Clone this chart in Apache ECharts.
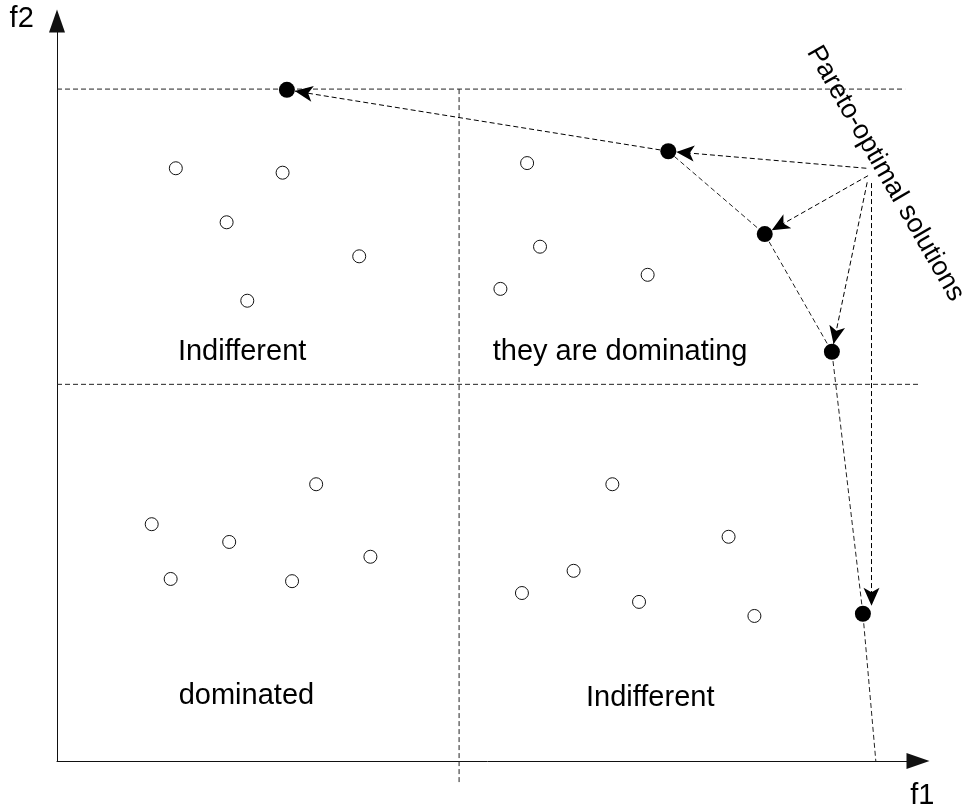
<!DOCTYPE html>
<html>
<head>
<meta charset="utf-8">
<script src="https://cdn.jsdelivr.net/npm/echarts@6/dist/echarts.min.js"></script>
<style>
html, body { margin: 0; padding: 0; background: #fff; }
#chart { width: 963px; height: 812px; }
</style>
</head>
<body>
<div id="chart"></div>
<script>
// objective space, f1 and f2 on a 0..100 scale
const indifferentTop = [[13.8, 80.1], [26.2, 79.5], [19.7, 72.8], [35.1, 68.2], [22.1, 62.2]];
const dominatingPts = [[54.6, 80.8], [56.1, 69.5], [51.5, 63.8], [68.6, 65.7]];
const dominatedPts = [[30.1, 37.4], [11.0, 32.0], [20.0, 29.6], [13.2, 24.6], [27.3, 24.3], [36.4, 27.6]];
const indifferentBottom = [[64.5, 37.4], [78.0, 30.3], [60.0, 25.7], [54.0, 22.7], [67.6, 21.5], [81.0, 19.6]];

// pareto front, then where the front line meets the f1 axis
const paretoPts = [[26.7, 90.7], [71.0, 82.4], [82.2, 71.2], [90.0, 55.3], [93.6, 19.9]];
const frontEnd = [95.1, 0];

// annotation arrows: start and target
const annoFrom = [[94.0, 80.1], [94.2, 79.1], [94.1, 78.2], [94.6, 78.1]];
const annoTo = [[71.0, 82.4], [82.2, 71.2], [90.0, 55.3], [94.6, 19.9]];

// quadrant dividers
const hLineTop = [[0, 90.8], [98.5, 90.8]];
const hLineMid = [[0, 50.9], [101.4, 50.9]];
const vLine = [[46.7, 90.8], [46.7, -3.2]];

const regionNames = ['Indifferent', 'they are dominating', 'dominated', 'Indifferent'];
const regionPos = [[21.5, 55.3], [65.4, 55.3], [22.0, 8.8], [68.9, 8.5]];
const axisNames = ['f2', 'f1'];
const axisNamePos = [[-4.1, 100.3], [100.5, -4.7]];
const paretoLabel = 'Pareto-optimal solutions';
const paretoLabelPos = [96.2, 79.4];

const FONT = '"Liberation Sans", Arial, sans-serif';
const dash = [5, 3];

let chart = echarts.init(document.getElementById('chart'));

function dashedLine(data) {
    return {
        type: 'line',
        data: data,
        symbol: 'none',
        clip: false,
        silent: true,
        lineStyle: { color: '#222', width: 1, type: dash },
        z: 2
    };
}

function openCircles(data) {
    return {
        type: 'scatter',
        data: data,
        symbol: 'circle',
        symbolSize: 13,
        clip: false,
        itemStyle: { color: '#fff', borderColor: '#111', borderWidth: 1, opacity: 1 },
        z: 5
    };
}

let option = {
    animation: false,
    backgroundColor: '#fff',
    grid: { left: 57, right: 45, top: 21, bottom: 51, containLabel: false, outerBoundsMode: 'none' },
    xAxis: {
        type: 'value', min: 0, max: 100,
        axisLine: { show: true, symbol: ['none', 'triangle'], symbolSize: [16, 23], lineStyle: { color: '#111', width: 1 } },
        axisTick: { show: false }, axisLabel: { show: false }, splitLine: { show: false }
    },
    yAxis: {
        type: 'value', min: 0, max: 100,
        axisLine: { show: true, symbol: ['none', 'triangle'], symbolSize: [16, 23], lineStyle: { color: '#111', width: 1 } },
        axisTick: { show: false }, axisLabel: { show: false }, splitLine: { show: false }
    },
    series: [
        dashedLine(hLineTop),
        dashedLine(hLineMid),
        dashedLine(vLine),
        dashedLine(paretoPts.slice(1).concat([frontEnd])),
        openCircles(indifferentTop),
        openCircles(dominatingPts),
        openCircles(dominatedPts),
        openCircles(indifferentBottom),
        {
            type: 'scatter',
            data: paretoPts,
            symbolSize: 16,
            clip: false,
            itemStyle: { color: '#000', opacity: 1 },
            z: 6
        },
        {
            type: 'scatter',
            data: regionPos.map((p, i) => ({ value: p, name: regionNames[i] }))
                .concat(axisNamePos.map((p, i) => ({ value: p, name: axisNames[i] }))),
            symbolSize: 0,
            clip: false,
            silent: true,
            itemStyle: { opacity: 1 },
            label: {
                show: true, position: 'inside', formatter: '{b}',
                color: '#000', fontSize: 29, fontFamily: FONT
            }
        },
        {
            type: 'scatter',
            data: [{ value: paretoLabelPos, name: paretoLabel }],
            symbolSize: 0,
            clip: false,
            silent: true,
            itemStyle: { opacity: 1 },
            label: {
                show: true, position: 'inside', formatter: '{b}', rotate: -60,
                color: '#000', fontSize: 27, fontFamily: FONT
            }
        }
    ]
};
chart.setOption(option);

// pull an arrow end back so its tip stops at the edge of the target dot
function shorten(from, to, px) {
    let a = chart.convertToPixel({ gridIndex: 0 }, from);
    let b = chart.convertToPixel({ gridIndex: 0 }, to);
    let dx = b[0] - a[0], dy = b[1] - a[1];
    let len = Math.sqrt(dx * dx + dy * dy);
    return chart.convertFromPixel({ gridIndex: 0 }, [b[0] - dx / len * px, b[1] - dy / len * px]);
}

let arrowPairs = [[paretoPts[1], paretoPts[0]]];
annoFrom.forEach((p, i) => arrowPairs.push([p, annoTo[i]]));

chart.setOption({
    series: option.series.concat([{
        type: 'lines',
        coordinateSystem: 'cartesian2d',
        silent: true,
        symbol: ['none', 'arrow'],
        symbolSize: [[12, 18], [12, 18]],
        lineStyle: { color: '#000', width: 1, type: dash, opacity: 1, curveness: 0 },
        data: arrowPairs.map(p => ({ coords: [p[0], shorten(p[0], p[1], 8)] })),
        z: 4
    }])
});

window.addEventListener('resize', function () {
    chart.resize();
});
</script>
</body>
</html>
